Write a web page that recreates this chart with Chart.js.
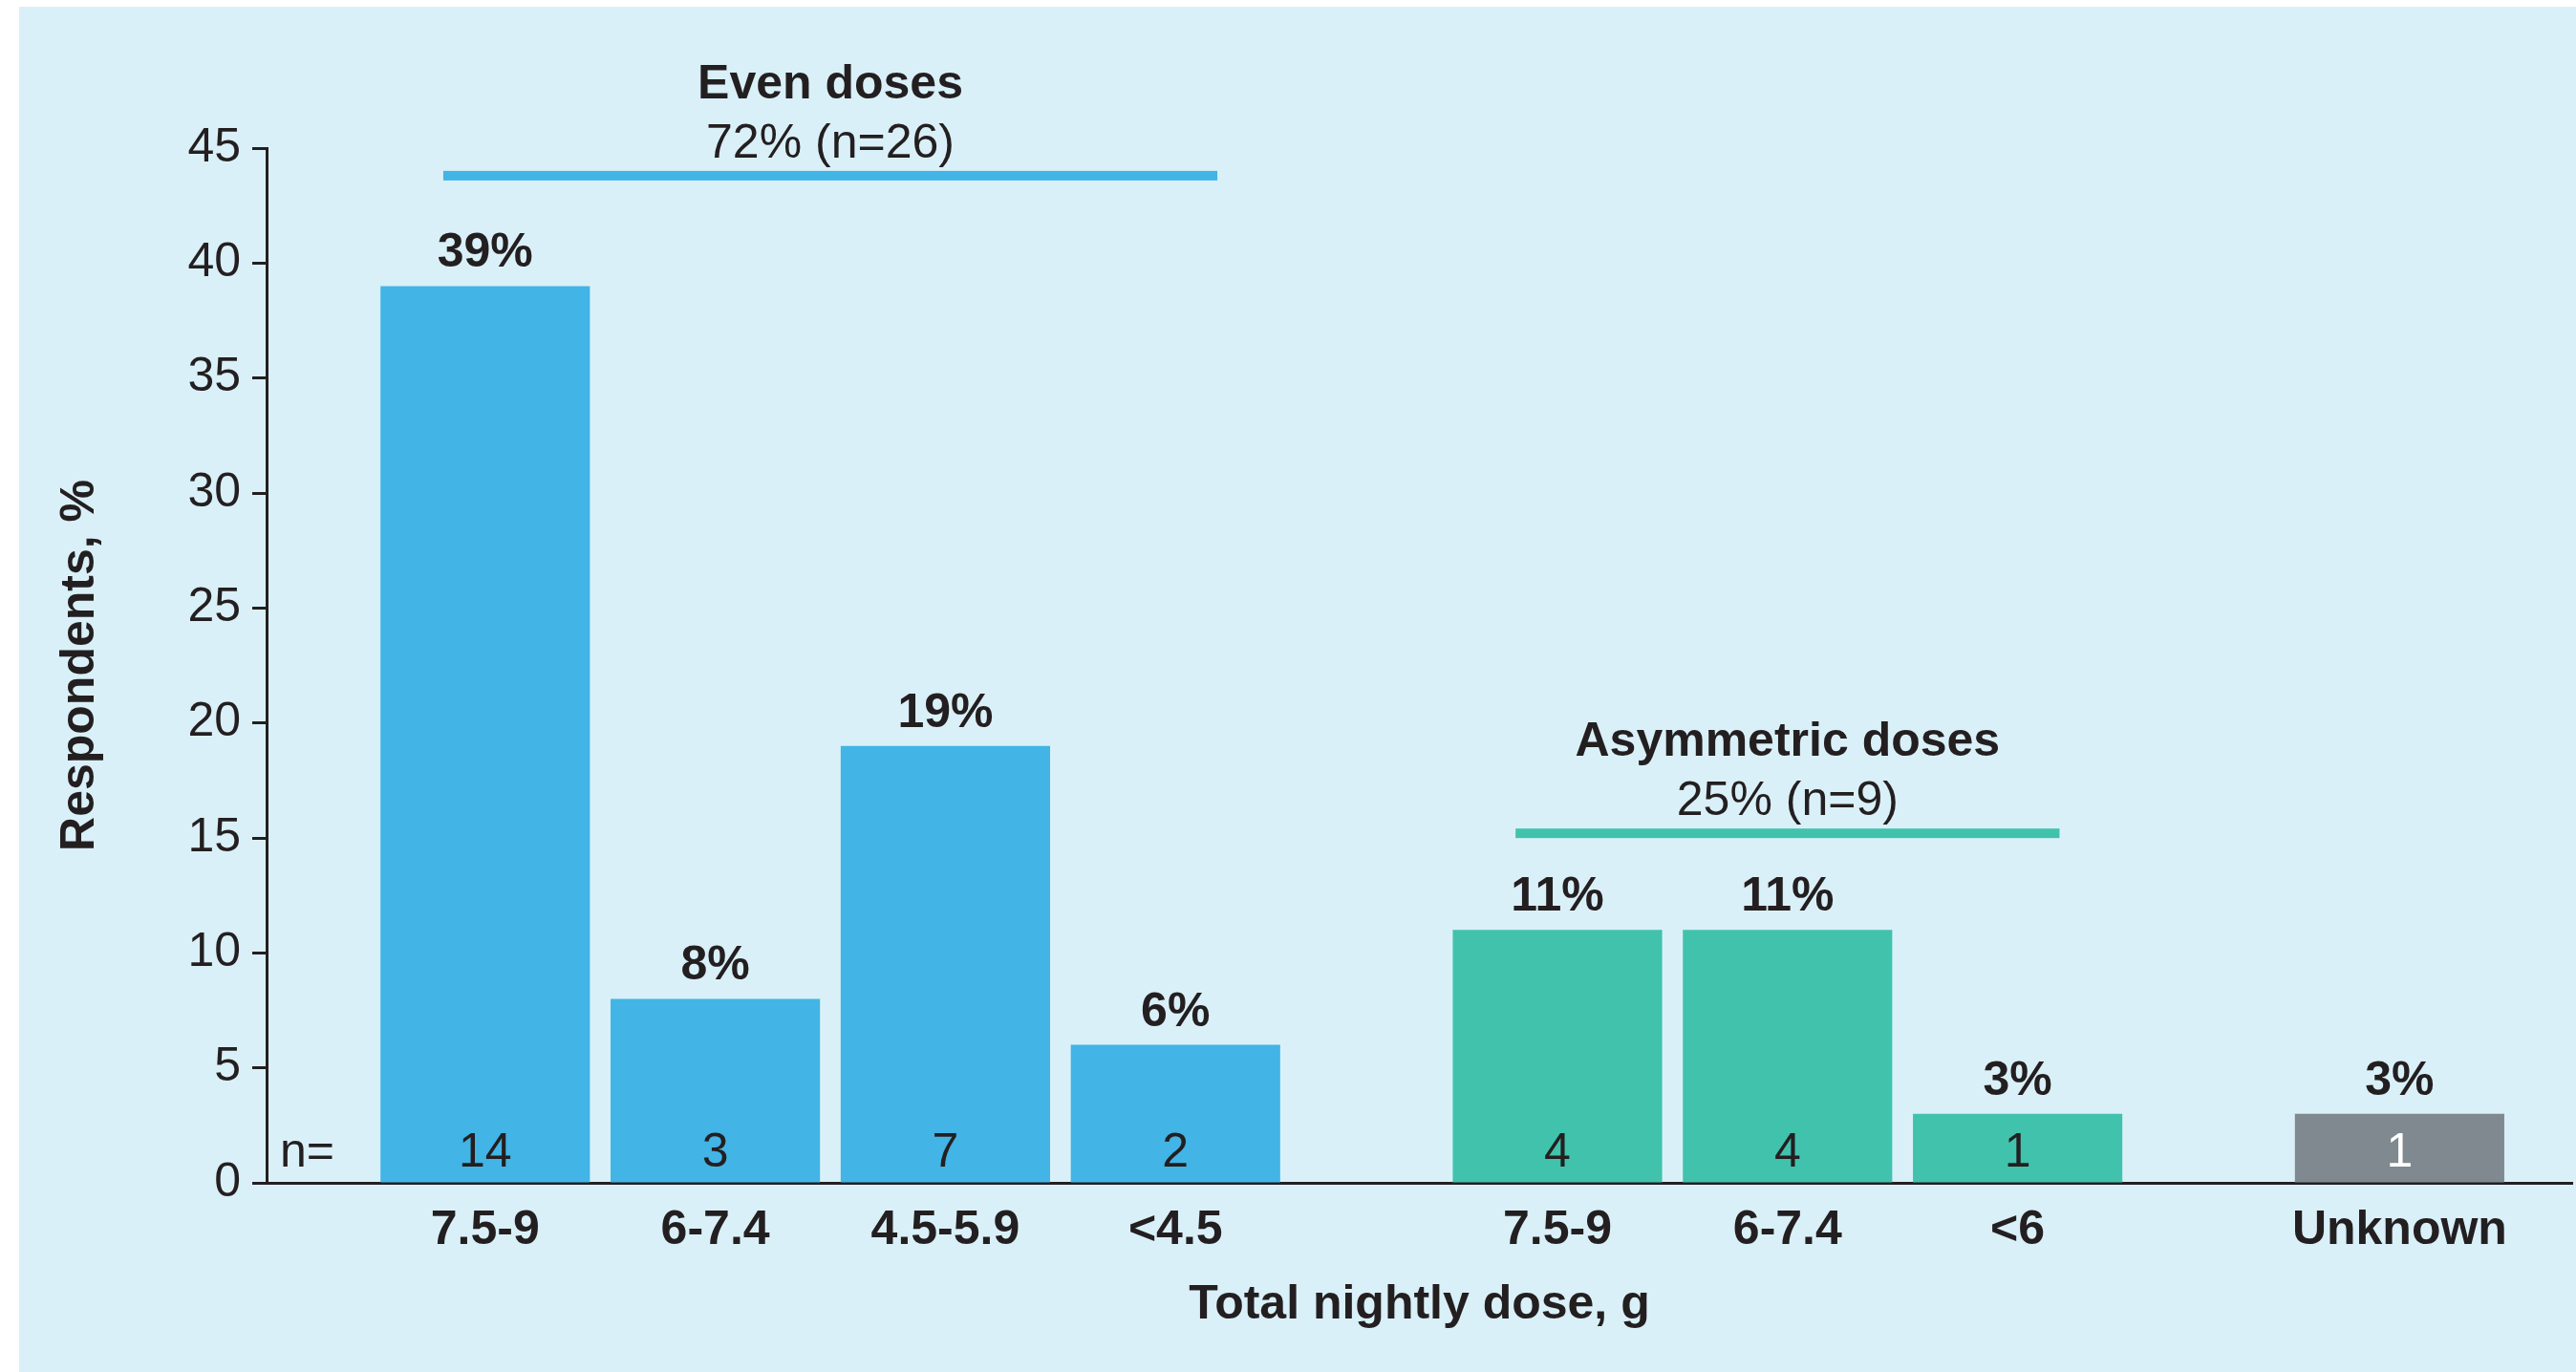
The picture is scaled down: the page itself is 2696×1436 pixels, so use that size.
<!DOCTYPE html>
<html>
<head>
<meta charset="utf-8">
<script src="https://cdn.jsdelivr.net/npm/chart.js@4.4.1/dist/chart.umd.min.js"></script>
<style>
  html, body { margin: 0; padding: 0; background: #ffffff; }
  canvas { display: block; }
</style>
</head>
<body>
<canvas id="graficoDoses" width="2696" height="1436"></canvas>
<script>
// === Dados ===
const evenLabels = ["7.5-9", "6-7.4", "4.5-5.9", "<4.5"];
const evenPct = [39, 8, 19, 6];
const evenN = [14, 3, 7, 2];

const asymLabels = ["7.5-9", "6-7.4", "<6"];
const asymPct = [11, 11, 3];
const asymN = [4, 4, 1];

const unknownLabels = ["Unknown"];
const unknownPct = [3];
const unknownN = [1];

const groupTitles = ["Even doses", "Asymmetric doses", ""];
const groupTotals = ["72% (n=26)", "25% (n=9)", ""];

// === Cores e fontes ===
const corTexto = "#231f20";
const corFundo = "#daf0f8";
const fonte = "'Liberation Sans', Arial, Helvetica, sans-serif";
Chart.defaults.font.family = fonte;
Chart.defaults.color = corTexto;

const grupos = [
    { labels: evenLabels, pct: evenPct, n: evenN, title: groupTitles[0], total: groupTotals[0], color: "#42b4e5", nColor: corTexto, lineAt: 43.8 },
    { labels: asymLabels, pct: asymPct, n: asymN, title: groupTitles[1], total: groupTotals[1], color: "#41c2ad", nColor: corTexto, lineAt: 15.2 },
    { labels: unknownLabels, pct: unknownPct, n: unknownN, title: groupTitles[2], total: groupTotals[2], color: "#7f898f", nColor: "#ffffff", lineAt: null }
];

// espaco extra entre grupos (em unidades de barra)
const GAP = 0.66;
const barras = [];
let pos = 0;
grupos.forEach((g, gi) => {
    g.first = barras.length;
    g.labels.forEach((lab, i) => {
        barras.push({ x: pos + i, y: g.pct[i], label: lab, n: g.n[i], grupo: gi });
    });
    g.last = barras.length - 1;
    pos += g.labels.length + GAP;
});

function rotuloX(v) {
    const b = barras.find(b => Math.abs(b.x - v) < 0.01);
    return b ? b.label : "";
}

// --- fundo azul claro com margem branca ---
const pluginFundo = {
    id: "fundo",
    beforeDraw(chart) {
        const ctx = chart.ctx;
        ctx.save();
        ctx.fillStyle = "#ffffff";
        ctx.fillRect(0, 0, chart.width, chart.height);
        ctx.fillStyle = corFundo;
        ctx.fillRect(20, 7, chart.width - 20, chart.height - 7);
        ctx.restore();
    }
};

// --- rotulos de % e n ---
const pluginRotulos = {
    id: "rotulos",
    afterDatasetsDraw(chart) {
        const ctx = chart.ctx;
        const meta = chart.getDatasetMeta(0);
        const y0 = chart.scales.y.getPixelForValue(0);
        ctx.save();
        ctx.textAlign = "center";
        ctx.textBaseline = "alphabetic";
        meta.data.forEach((bar, i) => {
            const b = barras[i];
            ctx.font = "bold 50px " + fonte;
            ctx.fillStyle = corTexto;
            ctx.fillText(b.y + "%", bar.x, bar.y - 20);
            ctx.font = "50px " + fonte;
            ctx.fillStyle = grupos[b.grupo].nColor;
            ctx.fillText(String(b.n), bar.x, y0 - 17);
        });
        ctx.textAlign = "left";
        ctx.fillStyle = corTexto;
        ctx.font = "50px " + fonte;
        ctx.fillText("n=", chart.chartArea.left + 14, y0 - 17);

        // --- titulos dos grupos ---
        grupos.forEach(g => {
            if (g.lineAt === null) return;
            const a = meta.data[g.first];
            const z = meta.data[g.last];
            const inset = a.width * 0.3;
            const x1 = a.x - a.width / 2 + inset;
            const x2 = z.x + z.width / 2 - inset;
            const yl = chart.scales.y.getPixelForValue(g.lineAt);
            ctx.fillStyle = g.color;
            ctx.fillRect(x1, yl - 5, x2 - x1, 10);
            ctx.fillStyle = corTexto;
            ctx.textAlign = "center";
            ctx.font = "bold 50px " + fonte;
            ctx.fillText(g.title, (x1 + x2) / 2, yl - 81);
            ctx.font = "50px " + fonte;
            ctx.fillText(g.total, (x1 + x2) / 2, yl - 19);
        });
        ctx.restore();
    }
};

const chartDoses = new Chart(document.getElementById("graficoDoses"), {
    type: "bar",
    data: {
        datasets: [{
            data: barras.map(b => ({ x: b.x, y: b.y })),
            backgroundColor: barras.map(b => grupos[b.grupo].color),
            borderWidth: 0,
            barPercentage: 0.91,
            categoryPercentage: 1
        }]
    },
    options: {
        responsive: false,
        animation: false,
        devicePixelRatio: 1,
        layout: { padding: { top: 155, right: 4, bottom: 0, left: 0 } },
        plugins: {
            legend: { display: false },
            tooltip: { enabled: false }
        },
        scales: {
            x: {
                type: "linear",
                min: -0.95,
                max: 9.07,
                bounds: "data",
                offset: false,
                afterBuildTicks: s => { s.ticks = barras.map(b => ({ value: b.x })); },
                afterFit: s => { s.height = 198; },
                ticks: {
                    autoSkip: false,
                    maxRotation: 0,
                    padding: 20,
                    color: corTexto,
                    font: { size: 50, weight: "bold" },
                    callback: v => rotuloX(v)
                },
                grid: { display: false, drawTicks: false },
                border: { display: true, color: corTexto, width: 3 },
                title: {
                    display: true,
                    text: "Total nightly dose, g",
                    color: corTexto,
                    font: { size: 50, weight: "bold" },
                    padding: { top: 0, bottom: 40 }
                }
            },
            y: {
                min: 0,
                max: 45,
                afterFit: s => { s.width = 279; },
                ticks: {
                    stepSize: 5,
                    padding: 12,
                    color: corTexto,
                    font: { size: 50 }
                },
                grid: {
                    drawOnChartArea: false,
                    drawTicks: true,
                    tickLength: 15,
                    tickWidth: 3,
                    tickColor: corTexto
                },
                border: { color: corTexto, width: 3 },
                title: {
                    display: true,
                    text: "Respondents, %",
                    color: corTexto,
                    font: { size: 50, weight: "bold" },
                    padding: { top: 54, bottom: 0 }
                }
            }
        }
    },
    plugins: [pluginFundo, pluginRotulos]
});
</script>
</body>
</html>
